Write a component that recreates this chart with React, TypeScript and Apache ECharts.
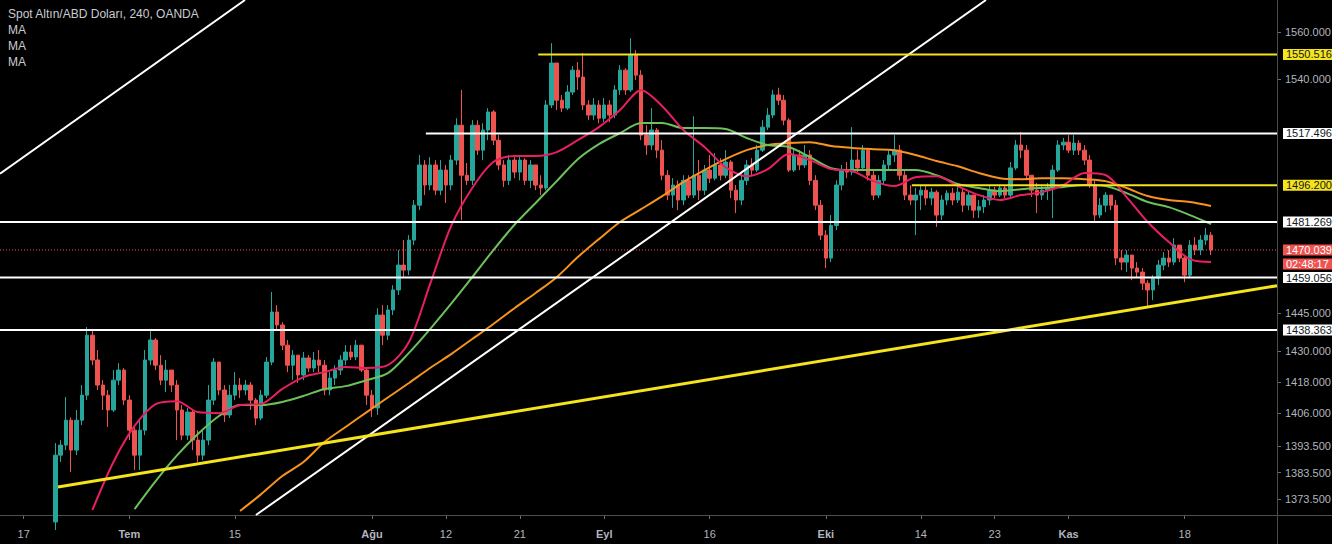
import React, { useEffect, useRef } from "react";
import * as echarts from "echarts";

// ---------- calendar (2 bars per trading day) ----------
const calendarStart = "2019-06-13";
const tradingDayCount = 121;
const barsPerDay = 2;
const firstCandleDay = "2019-06-20";
const firstOpen = 1365.0;
const tickDates = [
  "2019-06-17", "2019-07-01", "2019-07-15", "2019-08-01", "2019-08-12", "2019-08-21",
  "2019-09-02", "2019-09-16", "2019-10-01", "2019-10-14", "2019-10-23", "2019-11-01", "2019-11-18",
];
const monthNames = ["Oca", "Şub", "Mar", "Nis", "May", "Haz", "Tem", "Ağu", "Eyl", "Eki", "Kas", "Ara"];

// ---------- price axis ----------
const yMin = 1367.6;
const yMax = 1573.7;
const priceTicks = [1560, 1540, 1445, 1430, 1418, 1406, 1393.5, 1383.5, 1373.5];

// ---------- candles (close / high / low per half-day bar) ----------
const closeJun = [1390.1, 1393.9, 1403.4, 1392.0, 1403.4, 1413.0, 1436.3, 1426.6, 1416.9, 1413.0, 1407.3, 1418.8, 1422.7, 1411.1];
const highJun = [1394.7, 1395.8, 1412.3, 1404.5, 1407.3, 1416.9, 1439.5, 1438.3, 1430.5, 1418.8, 1415.0, 1422.7, 1425.4, 1423.5];
const lowJun = [1362.0, 1387.5, 1392.0, 1383.7, 1390.1, 1401.5, 1411.1, 1424.6, 1415.0, 1407.3, 1400.8, 1406.5, 1416.9, 1409.2];

const closeJul = [1399.6, 1390.1, 1399.6, 1426.6, 1434.4, 1424.6, 1418.8, 1422.7, 1416.9, 1407.3, 1397.7, 1406.5, 1395.8, 1390.1, 1395.8, 1411.1, 1425.8, 1415.0, 1405.4, 1413.0, 1416.9, 1415.0, 1416.9, 1411.1, 1404.2, 1413.0, 1425.8, 1445.4, 1440.3, 1432.4, 1424.6, 1428.5, 1420.8, 1427.4, 1423.5, 1426.6, 1424.6, 1415.0, 1419.6, 1422.7, 1426.6, 1429.7, 1427.8, 1432.4, 1422.7, 1413.0];
const highJul = [1413.0, 1401.5, 1403.4, 1430.5, 1438.3, 1435.2, 1428.5, 1426.6, 1422.7, 1418.8, 1409.2, 1408.1, 1407.3, 1399.6, 1399.6, 1416.9, 1427.4, 1425.8, 1416.9, 1416.9, 1421.9, 1419.6, 1418.8, 1418.1, 1411.9, 1415.0, 1427.8, 1453.3, 1448.1, 1441.4, 1434.4, 1430.5, 1428.5, 1429.7, 1428.5, 1429.7, 1430.5, 1426.6, 1421.9, 1424.6, 1428.5, 1432.4, 1432.4, 1434.4, 1432.4, 1423.5];
const lowJul = [1395.8, 1384.5, 1384.5, 1397.7, 1424.6, 1422.7, 1416.9, 1414.2, 1414.2, 1395.8, 1395.8, 1395.8, 1392.0, 1387.5, 1388.2, 1393.9, 1409.2, 1413.0, 1402.7, 1404.2, 1411.1, 1411.9, 1413.0, 1407.3, 1401.5, 1403.4, 1411.9, 1424.6, 1438.3, 1430.5, 1421.9, 1418.8, 1417.7, 1418.8, 1421.9, 1421.9, 1421.9, 1413.0, 1413.0, 1416.9, 1420.8, 1424.6, 1426.6, 1426.6, 1421.9, 1409.2];

const closeAug = [1408.1, 1444.2, 1436.3, 1446.2, 1454.1, 1464.0, 1462.0, 1474.0, 1488.1, 1504.5, 1496.3, 1504.5, 1494.2, 1502.4, 1496.3, 1506.5, 1520.9, 1500.3, 1498.2, 1520.9, 1510.6, 1518.9, 1526.4, 1514.7, 1504.5, 1498.2, 1506.5, 1501.6, 1506.5, 1498.2, 1504.5, 1496.3, 1495.1, 1529.3, 1546.9, 1531.3, 1528.0, 1534.7, 1543.9, 1541.0, 1529.3, 1525.1, 1529.3, 1523.8];
const highAug = [1415.0, 1446.9, 1448.1, 1448.1, 1456.0, 1470.0, 1474.0, 1476.0, 1490.2, 1508.6, 1506.5, 1507.7, 1506.5, 1506.5, 1504.5, 1508.6, 1523.8, 1535.6, 1505.3, 1523.0, 1523.0, 1521.7, 1528.0, 1527.2, 1516.8, 1506.5, 1508.6, 1507.7, 1508.6, 1507.3, 1506.5, 1504.5, 1500.3, 1531.3, 1555.3, 1546.0, 1533.5, 1537.6, 1545.6, 1547.3, 1551.1, 1531.3, 1532.2, 1531.3];
const lowAug = [1404.6, 1405.4, 1432.4, 1434.4, 1444.2, 1452.1, 1458.8, 1460.0, 1472.0, 1486.1, 1492.2, 1494.2, 1492.2, 1492.2, 1489.0, 1494.2, 1504.5, 1482.1, 1496.3, 1496.3, 1508.6, 1506.5, 1514.7, 1512.7, 1502.4, 1495.5, 1496.3, 1499.1, 1498.2, 1496.3, 1495.1, 1494.2, 1492.2, 1494.2, 1528.0, 1527.2, 1526.4, 1527.2, 1533.5, 1535.6, 1527.2, 1523.0, 1523.0, 1521.7];

const closeSep = [1529.3, 1525.1, 1535.6, 1543.9, 1535.6, 1550.2, 1541.8, 1516.8, 1512.7, 1518.9, 1510.6, 1500.3, 1492.2, 1496.3, 1490.2, 1498.2, 1492.2, 1500.3, 1494.2, 1502.4, 1499.1, 1504.5, 1500.3, 1505.7, 1494.2, 1490.2, 1498.2, 1504.5, 1502.4, 1510.6, 1520.1, 1525.1, 1533.5, 1531.3, 1523.0, 1502.4, 1508.6, 1504.5, 1508.6, 1498.2, 1488.1, 1476.0];
const highSep = [1532.2, 1531.3, 1537.6, 1546.0, 1544.7, 1557.4, 1552.3, 1543.9, 1520.9, 1528.0, 1519.7, 1514.7, 1502.4, 1499.1, 1498.2, 1500.3, 1500.3, 1524.6, 1506.5, 1504.5, 1508.6, 1509.4, 1507.3, 1510.6, 1506.5, 1496.3, 1501.6, 1506.5, 1507.3, 1512.7, 1523.0, 1528.0, 1535.6, 1536.5, 1533.5, 1523.8, 1511.5, 1510.6, 1512.7, 1510.6, 1500.3, 1490.2];
const lowSep = [1522.2, 1522.2, 1523.8, 1533.5, 1533.5, 1534.7, 1539.7, 1514.7, 1508.6, 1510.6, 1507.3, 1498.2, 1490.2, 1487.0, 1486.1, 1488.1, 1491.0, 1491.0, 1490.2, 1492.2, 1497.1, 1498.2, 1498.2, 1499.1, 1491.0, 1484.9, 1488.1, 1496.3, 1500.3, 1501.6, 1509.8, 1518.9, 1523.8, 1529.3, 1520.9, 1501.6, 1501.6, 1502.4, 1503.3, 1496.3, 1486.1, 1474.0];

const closeOct = [1466.8, 1479.9, 1496.3, 1502.4, 1501.6, 1506.5, 1503.3, 1510.6, 1500.3, 1492.2, 1498.2, 1504.5, 1508.6, 1510.6, 1500.3, 1492.2, 1490.2, 1492.2, 1494.2, 1491.0, 1493.4, 1484.1, 1490.2, 1493.0, 1490.2, 1493.4, 1488.1, 1492.2, 1486.1, 1487.5, 1490.2, 1494.2, 1492.2, 1495.1, 1492.2, 1503.3, 1512.7, 1510.6, 1500.3, 1494.2, 1492.2, 1494.2, 1495.1, 1502.4, 1512.7, 1513.9];
const highOct = [1478.0, 1484.1, 1498.2, 1504.5, 1505.7, 1520.1, 1510.6, 1512.7, 1511.5, 1502.4, 1500.3, 1506.5, 1510.6, 1516.8, 1512.7, 1502.4, 1496.3, 1495.1, 1496.3, 1496.3, 1495.1, 1494.2, 1492.2, 1494.2, 1495.1, 1495.5, 1495.1, 1494.2, 1492.2, 1490.2, 1492.2, 1495.9, 1495.5, 1496.3, 1496.3, 1505.7, 1514.7, 1518.1, 1512.7, 1500.3, 1497.1, 1496.3, 1497.1, 1504.5, 1514.7, 1515.6];
const lowOct = [1462.8, 1465.2, 1478.0, 1494.2, 1499.1, 1500.3, 1501.6, 1502.4, 1498.2, 1490.2, 1491.0, 1496.3, 1502.4, 1505.7, 1498.2, 1490.2, 1488.1, 1476.0, 1486.1, 1488.1, 1488.1, 1479.3, 1482.1, 1488.1, 1488.1, 1489.0, 1485.3, 1486.1, 1482.9, 1482.9, 1484.9, 1488.1, 1491.0, 1491.4, 1491.0, 1491.4, 1502.4, 1507.3, 1498.2, 1491.4, 1484.9, 1490.2, 1490.2, 1482.9, 1501.6, 1510.6];

const closeNov = [1510.6, 1513.5, 1510.6, 1506.5, 1496.3, 1484.1, 1488.1, 1492.2, 1488.1, 1466.8, 1465.2, 1468.0, 1462.8, 1461.2, 1456.8, 1454.1, 1458.8, 1464.0, 1466.8, 1465.2, 1472.0, 1466.8, 1460.0, 1472.0, 1470.0, 1474.0, 1476.0, 1470.039];
const highNov = [1516.8, 1516.8, 1514.7, 1512.7, 1508.6, 1498.2, 1491.0, 1493.4, 1492.2, 1490.2, 1470.0, 1470.0, 1468.0, 1465.2, 1462.8, 1458.0, 1460.0, 1466.0, 1469.2, 1470.0, 1474.8, 1472.0, 1468.0, 1474.0, 1475.2, 1476.0, 1478.9, 1477.2];
const lowNov = [1509.4, 1508.6, 1508.6, 1504.5, 1495.1, 1480.9, 1482.9, 1485.3, 1486.1, 1464.0, 1462.0, 1461.2, 1458.0, 1459.2, 1454.1, 1447.5, 1450.1, 1456.0, 1462.0, 1463.2, 1464.0, 1465.2, 1457.2, 1458.8, 1468.0, 1468.0, 1472.0, 1468.0];

// ---------- moving averages (one value every maStride bars) ----------
const maStride = 4;
const maFastStartBar = 17;
const maFast = [1369.4, 1387.5, 1401.2, 1409.6, 1410.7, 1406.5, 1406.1, 1409.2, 1409.6, 1415.4, 1420.0, 1421.9, 1423.9, 1423.5, 1424.6, 1433.6, 1456.4, 1479.7, 1495.1, 1505.7, 1508.2, 1508.2, 1509.8, 1514.7, 1520.1, 1527.2, 1535.5, 1528.8, 1518.9, 1511.9, 1503.6, 1499.9, 1502.8, 1509.0, 1506.5, 1502.8, 1502.0, 1497.9, 1495.9, 1499.5, 1499.9, 1495.9, 1492.2, 1490.2, 1492.2, 1493.4, 1496.3, 1501.2, 1500.4, 1491.4, 1481.3, 1473.2, 1466.4, 1465.2];
const maMidStartBar = 25;
const maMid = [1369.8, 1380.3, 1389.9, 1398.1, 1405.0, 1409.2, 1409.2, 1410.4, 1412.7, 1415.4, 1416.5, 1418.8, 1421.5, 1429.4, 1438.7, 1448.7, 1459.2, 1470.0, 1480.2, 1489.0, 1497.9, 1506.9, 1513.1, 1517.6, 1521.8, 1521.8, 1519.7, 1519.7, 1519.3, 1515.6, 1512.7, 1511.9, 1507.7, 1503.2, 1502.4, 1502.4, 1502.4, 1502.4, 1500.3, 1496.7, 1495.1, 1493.8, 1494.6, 1495.1, 1495.5, 1496.3, 1495.9, 1493.0, 1489.4, 1487.3, 1484.1, 1480.5];
const maSlowStartBar = 45;
const maSlow = [1369.1, 1375.4, 1382.2, 1387.5, 1395.1, 1400.8, 1406.5, 1412.1, 1417.7, 1423.5, 1428.9, 1434.8, 1440.7, 1446.9, 1452.9, 1459.2, 1467.2, 1474.4, 1481.3, 1486.5, 1491.8, 1497.5, 1502.4, 1506.9, 1510.6, 1512.7, 1513.5, 1513.9, 1512.3, 1511.5, 1511.0, 1510.6, 1508.6, 1506.1, 1504.0, 1501.2, 1499.1, 1498.7, 1499.1, 1499.1, 1498.7, 1497.9, 1495.1, 1491.8, 1490.2, 1489.4, 1487.8];

// ---------- drawings (bar, price) ----------
const trendWhiteTop = [[-0.5, 1500.9], [45.93, 1573.7]];
const trendWhiteLong = [[48.0, 1367.6], [186.35, 1573.7]];
const trendYellow = [[10.49, 1378.06], [241.5, 1455.8]];
const levelPrices = [1550.516, 1517.496, 1496.2, 1481.269, 1459.056, 1438.363];
const levelStartBar = [101.5, 80.2, 172.3, -0.5, -0.5, -0.5];
const levelKinds = ["y", "w", "y", "w", "w", "w"];
const lastPrice = 1470.039;
const countdownText = "02:48:17";

const titleText = "Spot Altın/ABD Doları, 240, OANDA";
const legendNames = ["MA", "MA", "MA"];

// ---------- styles ----------
const UP = "#26a69a";
const DOWN = "#ef5350";
const YELLOW = "#f5e31c";
const WHITE = "#ffffff";
const AXIS_TEXT = "#b2b5be";
const FONT = "'Liberation Sans', Arial, sans-serif";

function tradingDays(start: string, n: number): string[] {
  const out: string[] = [];
  const d = new Date(start + "T00:00:00Z");
  while (out.length < n) {
    const wd = d.getUTCDay();
    if (wd !== 0 && wd !== 6) out.push(d.toISOString().slice(0, 10));
    d.setUTCDate(d.getUTCDate() + 1);
  }
  return out;
}

function buildOption() {
  const L = Math.log;
  const days = tradingDays(calendarStart, tradingDayCount);
  const barCount = days.length * barsPerDay;
  const xMin = -0.5;
  const xMax = barCount - 0.5;

  const closes = [...closeJun, ...closeJul, ...closeAug, ...closeSep, ...closeOct, ...closeNov];
  const highs = [...highJun, ...highJul, ...highAug, ...highSep, ...highOct, ...highNov];
  const lows = [...lowJun, ...lowJul, ...lowAug, ...lowSep, ...lowOct, ...lowNov];
  const start = days.indexOf(firstCandleDay) * barsPerDay;
  const candles = closes.map((c, k) => {
    const o = k === 0 ? firstOpen : closes[k - 1];
    const h = Math.max(highs[k], o, c);
    const l = Math.min(lows[k], o, c);
    return [start + k, L(o), L(c), L(l), L(h)];
  });

  const maData = (arr: number[], from: number) => arr.map((v, k) => [from + k * maStride, L(v)]);
  const seg = (pts: number[][]) => pts.map(([b, p]) => [b, L(p)]);

  const tickIdx = tickDates.map((d) => days.indexOf(d) * barsPerDay);
  const labelOf = (v: number) => {
    const di = Math.round(v / barsPerDay);
    const d = days[di];
    if (!d) return "";
    const prev = days[di - 1];
    const m = +d.slice(5, 7);
    if (!prev || +prev.slice(5, 7) !== m) return `{m|${monthNames[m - 1]}}`;
    return String(+d.slice(8, 10));
  };

  const boxLevels = [...levelPrices, lastPrice];
  const boxKinds = [...levelKinds, "r"];

  const lineSeries = (data: number[][], color: string, width: number, type: any = "solid", z = 4) => ({
    type: "line",
    data,
    symbol: "none",
    silent: true,
    animation: false,
    clip: true,
    z,
    lineStyle: { color, width, type },
  });

  const series: any[] = [
    {
      type: "candlestick",
      data: candles,
      barWidth: 4,
      clip: true,
      z: 2,
      itemStyle: { color: UP, color0: DOWN, borderColor: UP, borderColor0: DOWN, borderWidth: 1 },
    },
    { ...lineSeries(maData(maSlow, maSlowStartBar), "#f7931e", 2, "solid", 3), smooth: 0.3 },
    { ...lineSeries(maData(maMid, maMidStartBar), "#6cc15a", 2, "solid", 3), smooth: 0.3 },
    { ...lineSeries(maData(maFast, maFastStartBar), "#e91e63", 2, "solid", 3), smooth: 0.3 },
    lineSeries([[xMin, L(lastPrice)], [xMax, L(lastPrice)]], DOWN, 1, [1, 2], 4),
    lineSeries(seg(trendWhiteTop), WHITE, 2),
    lineSeries(seg(trendWhiteLong), WHITE, 2),
    lineSeries(seg(trendYellow), YELLOW, 3),
  ];
  levelPrices.forEach((p, k) => {
    series.push(
      lineSeries(
        [[levelStartBar[k], L(p)], [xMax, L(p)]],
        levelKinds[k] === "y" ? YELLOW : WHITE,
        2
      )
    );
  });

  const boxStyle = (bg: string, fg: string) => ({
    backgroundColor: bg,
    color: fg,
    fontSize: 11,
    fontFamily: FONT,
    lineHeight: 13,
    width: 44,
    padding: [0, 2, 0, 3],
  });

  return {
    animation: false,
    backgroundColor: "#000000",
    grid: { left: 0, right: 55, top: 0, bottom: 29, containLabel: false, outerBoundsMode: "none" },
    xAxis: {
      type: "value",
      min: xMin,
      max: xMax,
      axisLine: { show: false, onZero: false },
      splitLine: { show: false },
      axisTick: { show: true, customValues: tickIdx, length: 4, lineStyle: { color: "#6a6d78" } },
      axisLabel: {
        customValues: tickIdx,
        formatter: labelOf,
        color: AXIS_TEXT,
        fontSize: 11,
        fontFamily: FONT,
        margin: 13,
        rich: { m: { fontWeight: "bold", color: AXIS_TEXT, fontSize: 11, fontFamily: FONT } },
      },
    },
    yAxis: [
      {
        type: "value",
        position: "right",
        min: L(yMin),
        max: L(yMax),
        axisLine: { show: false, onZero: false },
        splitLine: { show: false },
        axisTick: { show: true, customValues: priceTicks.map(L), length: 4, lineStyle: { color: "#6a6d78" } },
        axisLabel: {
          customValues: priceTicks.map(L),
          formatter: (v: number) => Math.exp(v).toFixed(3),
          color: AXIS_TEXT,
          fontSize: 11,
          fontFamily: FONT,
          margin: 8,
        },
      },
      {
        type: "value",
        position: "right",
        min: L(yMin),
        max: L(yMax),
        z: 10,
        axisLine: { show: false, onZero: false },
        splitLine: { show: false },
        axisTick: { show: false },
        axisLabel: {
          customValues: boxLevels.map(L),
          margin: 6,
          formatter: (v: number) => {
            const k = boxLevels.findIndex((p) => Math.abs(L(p) - v) < 1e-7);
            if (k < 0) return "";
            const txt = boxLevels[k].toFixed(3);
            const kind = boxKinds[k];
            if (kind === "r") return `{sp| }\n{r|${txt}}\n{t|${countdownText}}`;
            return `{${kind}|${txt}}`;
          },
          rich: {
            y: boxStyle(YELLOW, "#131722"),
            w: boxStyle(WHITE, "#131722"),
            r: boxStyle(DOWN, "#ffffff"),
            t: { ...boxStyle(DOWN, "#ffffff"), lineHeight: 15 },
            sp: { lineHeight: 15, fontSize: 11 },
          },
        },
      },
    ],
    graphic: [
      { type: "line", silent: true, z: 1, shape: { x1: 1277.5, y1: 0, x2: 1277.5, y2: 544 }, style: { stroke: "#4d4d4d", lineWidth: 1 } },
      { type: "line", silent: true, z: 1, shape: { x1: 0, y1: 515.5, x2: 1332, y2: 515.5 }, style: { stroke: "#4d4d4d", lineWidth: 1 } },
      { type: "text", left: 8, top: 8, z: 20, style: { text: titleText, fill: "#c9cbd1", fontSize: 12, fontFamily: FONT } },
      ...legendNames.map((n, k) => ({
        type: "text",
        left: 8,
        top: 24 + k * 16,
        z: 20,
        style: { text: n, fill: "#c9cbd1", fontSize: 12, fontFamily: FONT },
      })),
    ],
    series,
  };
}

export default function App() {
  const ref = useRef<HTMLDivElement>(null);
  useEffect(() => {
    if (!ref.current) return;
    const chart = echarts.init(ref.current, null, { renderer: "svg" });
    chart.setOption(buildOption() as any);
    return () => chart.dispose();
  }, []);
  return <div ref={ref} style={{ position: "absolute", left: 0, top: 0, width: 1332, height: 544 }} />;
}
